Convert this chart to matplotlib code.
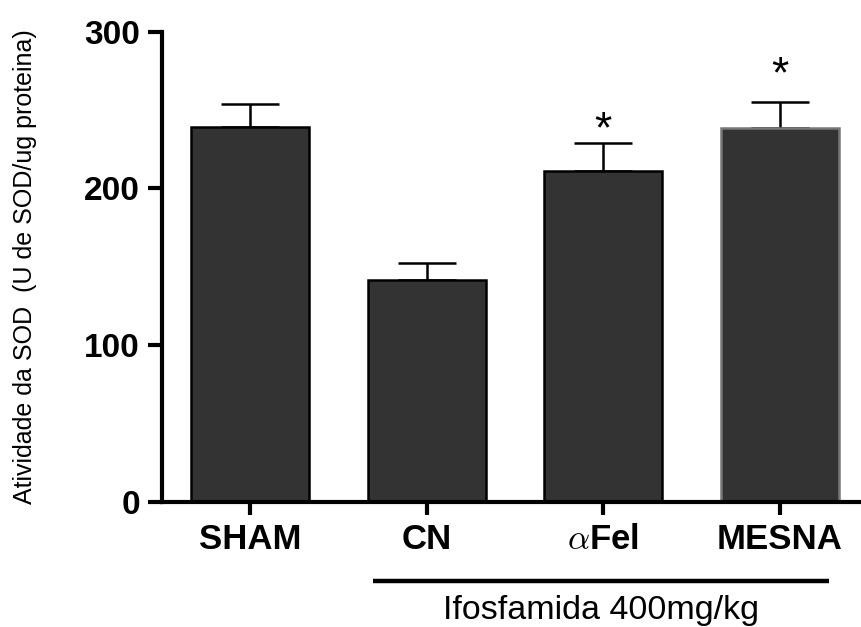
import matplotlib
matplotlib.use("Agg")
import matplotlib.pyplot as plt
import numpy as np

categories = ["SHAM", "CN", r"$\alpha$Fel", "MESNA"]
means = [239.3, 141.5, 211.2, 238.7]
sems = [14.5, 11.0, 17.9, 16.5]
star_heights = [None, None, 241.5, 276.6]   # centre of the "*" marks (data units)
y_ticks = [0, 100, 200, 300]
ylabel = "Atividade da SOD  (U de SOD/ug proteina)"
group_label = "Ifosfamida 400mg/kg"

plt.rcParams['font.family'] = ['Liberation Sans', 'DejaVu Sans']
plt.rcParams['mathtext.fontset'] = 'cm'

fig = plt.figure(figsize=(8.61, 6.27), dpi=100)
ax = fig.add_axes([162/861, (627-501.7)/627, (861-162)/861, 470/627])

x = np.arange(len(categories))
edgecols = ['black', 'black', 'black', '#777777']
ax.bar(x, means, width=0.67, color='#333333', edgecolor=edgecols, linewidth=1.8, zorder=2)
ax.errorbar(x, means, yerr=[np.zeros(len(sems)), sems], fmt='none', ecolor='black',
            elinewidth=1.8, capsize=21, capthick=1.8, zorder=1)

fs_star = 32
off = 0.42 * fs_star * 100 / 72 / (470 / 300)  # glyph centre above baseline, data units
for xi, sh in zip(x, star_heights):
    if sh is not None:
        ax.text(xi, sh - off, "*", ha='center', va='baseline', fontsize=fs_star, color='black')

ax.set_xlim(-0.5, 3.46)
ax.set_ylim(0, 300)
ax.set_yticks(y_ticks)
ax.set_xticks(x)
ax.set_xticklabels(categories)
for lab in ax.get_xticklabels() + ax.get_yticklabels():
    lab.set_fontweight('bold')
ax.tick_params(axis='x', length=9.5, width=3, labelsize=25, pad=6)
ax.tick_params(axis='y', length=10, width=3, labelsize=24, pad=6)

for side in ['top', 'right']:
    ax.spines[side].set_visible(False)
for side in ['left', 'bottom']:
    ax.spines[side].set_linewidth(3)

ax.set_ylabel(ylabel, fontsize=18)
ax.yaxis.set_label_coords(-0.179, 0.5)

# bracket under treated groups
ax.plot([0.696, 3.28], [-0.169, -0.169], transform=ax.get_xaxis_transform(),
        color='black', linewidth=3.2, clip_on=False, solid_capstyle='butt')
ax.text((0.696 + 3.28) / 2, -0.25, group_label, transform=ax.get_xaxis_transform(),
        ha='center', va='baseline', fontsize=24.5)

fig.savefig("out.png", dpi=100)
